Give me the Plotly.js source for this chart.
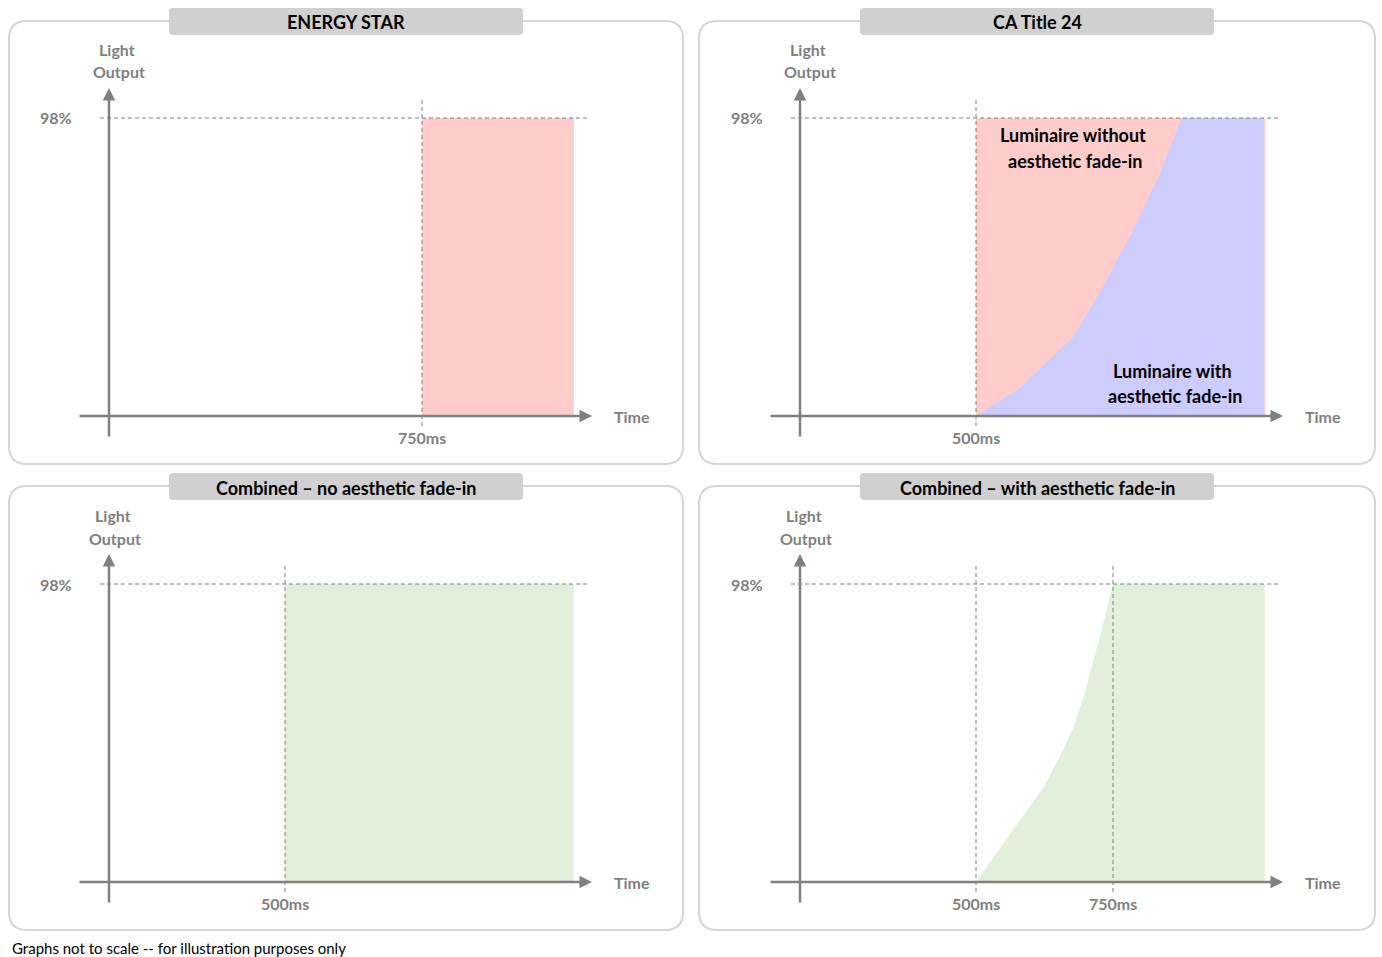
<!DOCTYPE html>
<html>
<head>
<meta charset="utf-8">
<script src="https://cdn.plot.ly/plotly-3.0.1.min.js"></script>
<style>html,body{margin:0;padding:0;background:#fff;}#chart{width:1382px;height:957px;}</style>
</head>
<body>
<div id="chart"></div>
<script>
// ---------------- data ----------------
const panelTitles = ["ENERGY STAR", "CA Title 24", "Combined – no aesthetic fade-in", "Combined – with aesthetic fade-in"];
const peakLabel = "98%";
const peakLevel = 98;                 // % light output
const endTime = 1027;                 // ms (illustrative end of each graph)
const energyStarStart = 750;          // ms
const title24Start = 500;             // ms
const panelTicks = [[750], [500], [500], [500, 750]];  // ms labels on each time axis
const panelTickLines = [[750], [500], [500], [500, 750]];
// CA Title 24 – luminaire with aesthetic fade-in
const fadeT24Time = [500, 580, 678, 732, 787, 836, 875, 1025.5];
const fadeT24Level = [0, 9.1, 26.1, 42.5, 61.2, 79.8, 98, 98];
// Combined – with aesthetic fade-in
const fadeCombTime = [500, 598, 623, 653, 678, 696, 714, 732, 750, 1027];
const fadeCombLevel = [0, 24.7, 31.2, 41.1, 50.9, 60.7, 72.8, 84.8, 98, 98];
const textWithout = ["Luminaire without", "aesthetic fade-in"];
const textWith = ["Luminaire with", "aesthetic fade-in"];
const footer = "Graphs not to scale -- for illustration purposes only";

// ---------------- layout helpers ----------------
const W = 1382, H = 957;
const X = v => v / W;
const Y = v => 1 - v / H;
const PINK = "#ffcccc", BLUE = "#ccccff", GREEN = "#e2efda";
const AX = "#808080";
const FONT = "Lato, 'Open Sans', sans-serif";

// base panel geometry (top-left panel, pixels)
const g = {axisX: 109, axisY: 416, left: 78, right: 595, top: 85, bottom: 438};
const offs = [[0, 0], [691, 0], [0, 466], [691, 466]];
// time scale: 500ms at 176px, 750ms at 313px right of vertical axis
const sx = (313 - 176) / 250;
const xRange = [500 - (176 + (g.axisX - g.left)) / sx, 500 + (g.right - g.axisX - 176) / sx];
const sy = (416 - 118) / 98;
const yRange = [-(g.bottom - g.axisY) / sy, (g.axisY - g.top) / sy];

const boxes = [
  {x0: 9, x1: 683, y0: 21, y1: 464, tx0: 169, tx1: 523, ty0: 8, ty1: 35},
  {x0: 699, x1: 1375, y0: 21, y1: 464, tx0: 860, tx1: 1214, ty0: 8, ty1: 35},
  {x0: 9, x1: 683, y0: 486, y1: 930, tx0: 169, tx1: 523, ty0: 473, ty1: 500},
  {x0: 699, x1: 1375, y0: 486, y1: 930, tx0: 860, tx1: 1214, ty0: 473, ty1: 500}
];

function rr(x0, y0, x1, y1, r) {
  const p = (x, y) => X(x) + "," + Y(y);
  return "M" + p(x0 + r, y0) + " L" + p(x1 - r, y0) + " Q" + p(x1, y0) + " " + p(x1, y0 + r) +
    " L" + p(x1, y1 - r) + " Q" + p(x1, y1) + " " + p(x1 - r, y1) +
    " L" + p(x0 + r, y1) + " Q" + p(x0, y1) + " " + p(x0, y1 - r) +
    " L" + p(x0, y0 + r) + " Q" + p(x0, y0) + " " + p(x0 + r, y0) + " Z";
}

const layout = {
  width: W, height: H,
  margin: {l: 0, r: 0, t: 0, b: 0},
  paper_bgcolor: "#ffffff",
  plot_bgcolor: "rgba(0,0,0,0)",
  showlegend: false,
  hovermode: false,
  shapes: [],
  annotations: []
};

function label(a) {
  return Object.assign({showarrow: false, xanchor: "center", yanchor: "middle"}, a);
}

const traces = [];
const axisName = i => (i === 0 ? "" : String(i + 1));

offs.forEach(([ox, oy], i) => {
  const n = axisName(i);
  layout["xaxis" + n] = {domain: [X(g.left + ox), X(g.right + ox)], range: xRange, visible: false, anchor: "y" + n, fixedrange: true};
  layout["yaxis" + n] = {domain: [Y(g.bottom + oy), Y(g.top + oy)], range: yRange, visible: false, anchor: "x" + n, fixedrange: true};

  const b = boxes[i];
  layout.shapes.push({type: "path", xref: "paper", yref: "paper", layer: "below",
    path: rr(b.x0, b.y0, b.x1, b.y1, 18), line: {color: "#d6d6d6", width: 2}, fillcolor: "rgba(0,0,0,0)"});
  layout.shapes.push({type: "path", xref: "paper", yref: "paper", layer: "below",
    path: rr(b.tx0, b.ty0, b.tx1, b.ty1, 4), line: {width: 0}, fillcolor: "#d0d0d0"});
  layout.annotations.push(label({xref: "paper", yref: "paper", x: X((b.tx0 + b.tx1) / 2), y: Y((b.ty0 + b.ty1) / 2 + 1),
    text: "<b>" + panelTitles[i] + "</b>", font: {family: FONT, size: 18, color: "#000"}}));

  // dashed guide at peak level
  layout.shapes.push({type: "line", xref: "paper", yref: "y" + n, x0: X(100 + ox), x1: X(588 + ox), y0: peakLevel, y1: peakLevel,
    line: {color: AX, width: 1, dash: "4px,3px"}});
  panelTickLines[i].forEach(t => {
    layout.shapes.push({type: "line", xref: "x" + n, yref: "paper", x0: t, x1: t, y0: Y(100 + oy), y1: Y(426 + oy),
      line: {color: AX, width: 1, dash: "4px,3px"}});
  });
  // axes with arrows
  layout.annotations.push({xref: "paper", yref: "paper", x: X(g.right - 3 + ox), y: Y(g.axisY + oy), ax: -(g.right - 3 - g.left), ay: 0,
    axref: "pixel", ayref: "pixel", showarrow: true, arrowhead: 2, arrowsize: 1, arrowwidth: 2.5, arrowcolor: AX, text: "", standoff: 0});
  layout.annotations.push({xref: "paper", yref: "paper", x: X(g.axisX + ox), y: Y(g.top + 3 + oy), ax: 0, ay: g.bottom - g.top - 3,
    axref: "pixel", ayref: "pixel", showarrow: true, arrowhead: 2, arrowsize: 1, arrowwidth: 2.5, arrowcolor: AX, text: "", standoff: 0});

  const grey = {family: FONT, size: 16, color: "#7f7f7f"};
  const dx = oy ? -4 : 0;
  layout.annotations.push(label({xref: "paper", yref: "paper", x: X(g.axisX + 8 + ox + dx), y: Y(49 + oy), text: "<b>Light</b>", font: grey}));
  layout.annotations.push(label({xref: "paper", yref: "paper", x: X(g.axisX + 10 + ox + dx), y: Y(72 + oy), text: "<b>Output</b>", font: grey}));
  layout.annotations.push(label({xref: "paper", yref: "y" + n, x: X(56 + ox), y: peakLevel, text: "<b>" + peakLabel + "</b>", font: grey}));
  layout.annotations.push(label({xref: "paper", yref: "y" + n, x: X(632 + ox), y: 0, text: "<b>Time</b>", font: grey}));
  panelTicks[i].forEach(t => {
    layout.annotations.push(label({xref: "x" + n, yref: "y" + n, x: t, y: 0, yshift: -21, text: "<b>" + t + "ms</b>", font: grey}));
  });
});

function area(xs, ys, color, i) {
  const n = axisName(i);
  traces.push({type: "scatter", mode: "lines", x: xs, y: ys, fill: "tozeroy", fillcolor: color,
    line: {width: 0, color: color}, xaxis: "x" + n, yaxis: "y" + n, hoverinfo: "skip"});
}
area([energyStarStart, endTime], [peakLevel, peakLevel], PINK, 0);
area([title24Start, endTime + 1], [peakLevel, peakLevel], PINK, 1);
area(fadeT24Time, fadeT24Level, BLUE, 1);
area([title24Start, endTime], [peakLevel, peakLevel], GREEN, 2);
area(fadeCombTime, fadeCombLevel, GREEN, 3);

const black = {family: FONT, size: 18, color: "#000"};
[[1073, 135], [1075, 161]].forEach((p, k) => layout.annotations.push(label({xref: "paper", yref: "paper", x: X(p[0]), y: Y(p[1]),
  text: "<b>" + textWithout[k] + "</b>", font: black})));
[[1172, 371], [1175, 396]].forEach((p, k) => layout.annotations.push(label({xref: "paper", yref: "paper", x: X(p[0]), y: Y(p[1]),
  text: "<b>" + textWith[k] + "</b>", font: black})));

layout.annotations.push({xref: "paper", yref: "paper", x: X(10), y: Y(948), xanchor: "left", yanchor: "middle",
  text: footer, showarrow: false, font: {family: FONT, size: 15, color: "#000"}});

Plotly.newPlot("chart", traces, layout, {displayModeBar: false, staticPlot: true});
</script>
</body>
</html>
